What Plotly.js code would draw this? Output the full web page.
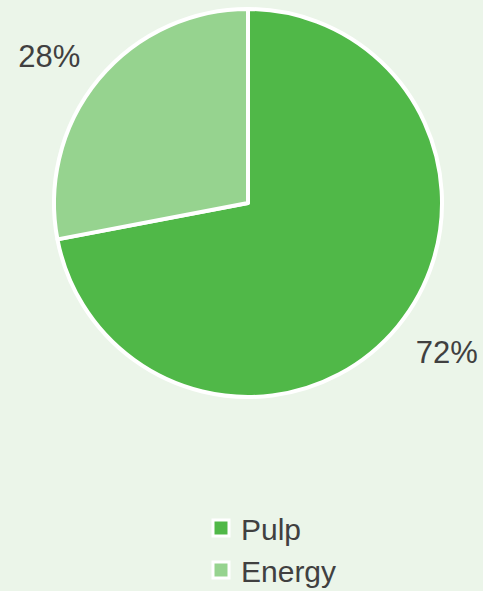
<!DOCTYPE html>
<html>
<head>
<meta charset="utf-8">
<script src="https://cdn.plot.ly/plotly-3.0.1.min.js"></script>
<style>html,body{margin:0;padding:0;background:#EBF5E9;}#chart{width:483px;height:591px;}</style>
</head>
<body>
<div id="chart"></div>
<script>
const categories = ["Pulp", "Energy"];
const shares = [72, 28];
const sliceColors = ["#50B848", "#96D38F"];

const W = 483, H = 591;
const cx = 248, cy = 203, R = 194;
const FONT = "Liberation Sans, Arial, sans-serif";

// Label templates: visible text at 31px; tiny spacer lines nudge the outside labels outward.
const pct = '<span style="font-size:31px">%{percent:.0%}</span>';
const labelTemplates = [
  '<span style="font-size:2px">\u00A0</span><br><span style="font-size:10px">\u00A0</span>' + pct,
  pct + '<span style="font-size:14px">\u00A0</span><br><span style="font-size:2px">\u00A0</span>'
];

const pie = {
  type: "pie",
  labels: categories,
  values: shares,
  sort: false,
  direction: "clockwise",
  rotation: 0,
  marker: { colors: sliceColors, line: { color: "#FFFFFF", width: 4 } },
  texttemplate: labelTemplates,
  textposition: "outside",
  outsidetextfont: { family: FONT, size: [41, 22.7], color: "#404040" },
  hoverinfo: "none",
  showlegend: false,
  automargin: false,
  domain: {
    x: [(cx - R) / W, (cx + R) / W],
    y: [(H - cy - R) / H, (H - cy + R) / H]
  }
};

const legendTraces = categories.map((name, i) => ({
  type: "scatter",
  mode: "markers",
  x: [null], y: [null],
  name: name,
  marker: { symbol: "square", size: 17, color: sliceColors[i], line: { color: "#FFFFFF", width: 3 } },
  hoverinfo: "none",
  showlegend: true
}));

const layout = {
  width: W, height: H,
  margin: { l: 0, r: 0, t: 0, b: 0, autoexpand: false },
  paper_bgcolor: "#EBF5E9",
  plot_bgcolor: "#EBF5E9",
  showlegend: true,
  xaxis: { visible: false },
  yaxis: { visible: false },
  legend: {
    orientation: "v",
    x: 201 / W, xanchor: "left",
    y: 1 - 502 / H, yanchor: "top",
    font: { family: FONT, size: 30, color: "#404040" },
    tracegroupgap: 0,
    bgcolor: "rgba(0,0,0,0)"
  },
  font: { family: FONT, color: "#404040" }
};

Plotly.newPlot("chart", [pie, ...legendTraces], layout, { displayModeBar: false, staticPlot: true });
</script>
</body>
</html>
